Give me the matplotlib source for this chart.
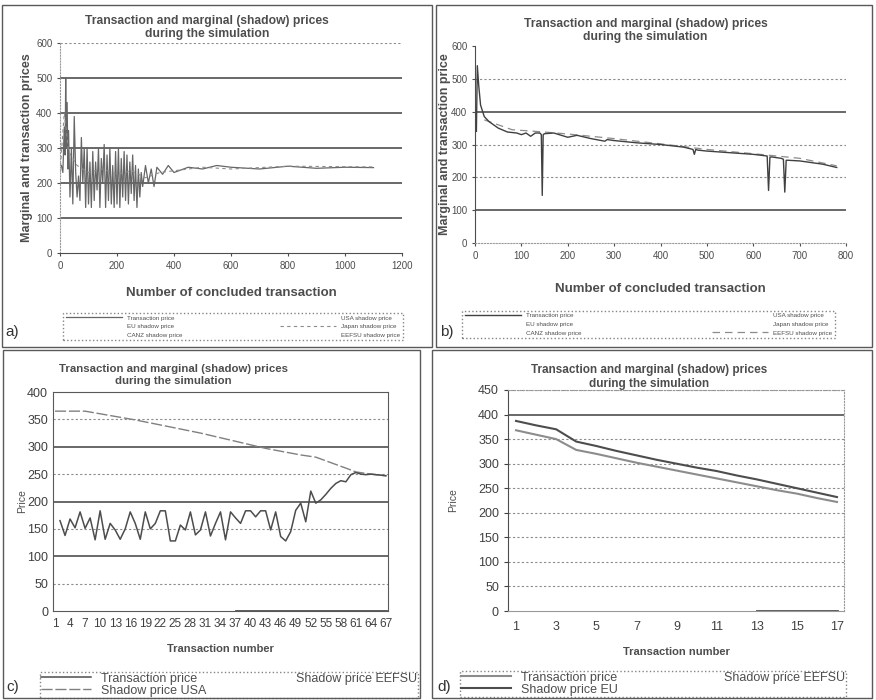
import matplotlib
matplotlib.use("Agg")
import matplotlib.pyplot as plt
from matplotlib.patches import Rectangle

plt.rcParams['font.family'] = ['Liberation Sans', 'DejaVu Sans']

TITLE = "Transaction and marginal (shadow) prices\nduring the simulation"

# ---- panel a: all regions, 1200 transactions
ta_x = [5, 10, 15, 18, 20, 22, 25, 28, 30, 35,
        40, 45, 50, 55, 60, 65, 70, 75, 80, 85,
        90, 95, 100, 105, 110, 115, 120, 125, 130, 135,
        140, 145, 150, 155, 160, 165, 170, 175, 180, 185,
        190, 195, 200, 205, 210, 215, 220, 225, 230, 235,
        240, 245, 250, 255, 260, 265, 270, 275, 280, 285,
        290, 300, 310, 320, 330, 340, 360, 380, 400, 450,
        500, 550, 600, 700, 800, 900, 1000, 1100]
ta_y = [250, 230, 360, 280, 500, 300, 430, 240, 350, 160,
        300, 140, 390, 230, 160, 220, 150, 330, 200, 300,
        130, 300, 140, 260, 130, 290, 150, 260, 180, 300,
        130, 270, 200, 310, 130, 280, 150, 300, 140, 250,
        130, 290, 140, 300, 130, 270, 160, 290, 150, 280,
        140, 260, 170, 280, 150, 250, 130, 240, 160, 230,
        190, 250, 200, 240, 190, 245, 225, 250, 230, 245,
        240, 250, 245, 240, 248, 242, 245, 244]
japan_a_x = [0, 15, 30, 60, 100, 150, 200, 250, 300, 350, 400, 500, 600, 800, 1100]
japan_a_y = [230, 400, 290, 250, 230, 240, 225, 235, 215, 230, 235, 245, 240, 248, 246]

# ---- panel b: 800 transactions
tb_x = [3, 5, 8, 12, 20, 30, 50, 70, 90, 100,
        110, 120, 130, 140, 143, 145, 147, 150, 170, 200,
        220, 250, 280, 285, 300, 350, 400, 450, 470, 473,
        476, 480, 500, 550, 600, 630, 633, 636, 640, 660,
        665, 668, 671, 675, 700, 750, 780]
tb_y = [340, 540, 480, 420, 385, 370, 350, 338, 335, 330,
        335, 325, 335, 335, 330, 145, 330, 333, 335, 322,
        328, 318, 310, 315, 312, 305, 300, 292, 285, 270,
        285, 283, 280, 275, 270, 265, 160, 262, 262, 258,
        255, 155, 252, 252, 250, 240, 230]
sb_x = [20, 40, 80, 150, 200, 300, 400, 500, 600, 700, 780]
sb_y = [375, 365, 345, 338, 332, 318, 302, 285, 272, 258, 235]

# ---- panel c: 67 transactions
tc_x = list(range(2, 68))
tc_y = [165, 138, 168, 152, 181, 151, 170, 130, 183, 131,
        160, 148, 131, 150, 181, 160, 131, 181, 150, 160,
        183, 183, 128, 128, 157, 148, 181, 139, 148, 181,
        137, 160, 181, 130, 181, 170, 160, 183, 183, 172,
        183, 183, 148, 181, 136, 128, 145, 184, 197, 163,
        219, 197, 203, 213, 224, 233, 238, 236, 249, 253,
        250, 249, 250, 249, 248, 247]
usa_c_x = [1, 7, 12, 17, 23, 30, 37, 43, 50, 53, 56, 59, 61, 64, 67]
usa_c_y = [365, 365, 357, 349, 338, 325, 310, 297, 285, 281, 271, 261, 254, 250, 247]
eefsu_c_x = [37, 67]
eefsu_c_y = [0, 0]
c_ticks = list(range(1, 68, 3))

# ---- panel d: 17 transactions
d_x = list(range(1, 18))
td_y = [368, 359, 350, 328, 320, 311, 302, 294, 286, 278, 270, 262, 254, 246, 239, 230, 222]
eu_d_y = [387, 378, 370, 345, 336, 326, 317, 308, 300, 292, 285, 276, 268, 259, 250, 241, 232]
eefsu_d_x = [13, 17]
eefsu_d_y = [0, 0]
d_ticks = list(range(1, 18, 2))

fig = plt.figure(figsize=(8.76, 7.0), dpi=100)

def px(x0, y0, x1, y1):
    # pixel box -> figure fraction rect
    return [x0 / 876, 1 - y1 / 700, (x1 - x0) / 876, (y1 - y0) / 700]

# panel frames
for (x0, y0, x1, y1) in [(2, 5, 432, 347), (436, 5, 872, 347), (3, 350, 420, 698), (432, 350, 872, 698)]:
    fig.add_artist(Rectangle((x0 / 876, 1 - y1 / 700), (x1 - x0) / 876, (y1 - y0) / 700,
                             transform=fig.transFigure, fill=False, ec='0.35', lw=1))

def hgrid(ax, vals, dark, light):
    for v in vals:
        if v in dark:
            ax.axhline(v, color='0.25', lw=1.1, zorder=0)
        elif v in light:
            ax.axhline(v, color='0.55', lw=0.8, ls=(0, (2, 2)), zorder=0)

def style_legend(leg):
    leg.get_frame().set_edgecolor('0.4')
    leg.get_frame().set_linestyle(':')
    for t in leg.get_texts():
        t.set_color('0.3')

# ---------------- a
ax = fig.add_axes(px(60, 43, 402, 253))
ax.plot(ta_x, ta_y, color='0.4', lw=0.9, label='Transaction price')
ax.plot([], [], color='white', label='EU shadow price')
ax.plot([], [], color='white', label='CANZ shadow price')
ax.plot([], [], color='white', label='USA shadow price')
ax.plot(japan_a_x, japan_a_y, color='0.55', lw=0.8, ls=(0, (3, 3)), label='Japan shadow price')
ax.plot([], [], color='white', label='EEFSU shadow price')
hgrid(ax, range(100, 601, 100), dark=[100, 200, 300, 400, 500], light=[600])
ax.set_xlim(0, 1200)
ax.set_ylim(0, 600)
ax.set_xticks(range(0, 1201, 200))
ax.set_yticks(range(0, 601, 100))
for s in ['top', 'right']:
    ax.spines[s].set_visible(False)
ax.spines['left'].set_color('0.6')
ax.spines['left'].set_linestyle(':')
ax.spines['bottom'].set_color('0.3')
ax.tick_params(labelsize=7, colors='0.3', length=2)
ax.set_title(TITLE, fontsize=8.7, fontweight='bold', color='0.3', pad=4, x=0.43)
ax.set_xlabel('Number of concluded transaction', fontsize=9.5, fontweight='bold', color='0.3', labelpad=12)
ax.set_ylabel('Marginal and transaction prices', fontsize=9, fontweight='bold', color='0.3', labelpad=2)
leg = ax.legend(loc='lower left', bbox_to_anchor=px(63, 303, 403, 340), bbox_transform=fig.transFigure,
                mode='expand', ncol=2, fontsize=4.5, frameon=True, fancybox=False,
                handlelength=9, borderaxespad=0, labelspacing=0.5)
style_legend(leg)
fig.text(5 / 876, 1 - 336 / 700, 'a)', fontsize=11, color='0.2')

# ---------------- b
ax = fig.add_axes(px(475, 46, 846, 243))
ax.plot(tb_x, tb_y, color='0.25', lw=1.0, label='Transaction price', zorder=3)
ax.plot([], [], color='white', label='EU shadow price')
ax.plot([], [], color='white', label='CANZ shadow price')
ax.plot([], [], color='white', label='USA shadow price')
ax.plot([], [], color='white', label='Japan shadow price')
ax.plot(sb_x, sb_y, color='0.55', lw=0.9, ls=(0, (6, 4)), label='EEFSU shadow price', zorder=2)
hgrid(ax, range(100, 601, 100), dark=[100, 400], light=[200, 300, 500])
ax.set_xlim(0, 800)
ax.set_ylim(0, 600)
ax.set_xticks(range(0, 801, 100))
ax.set_yticks(range(0, 601, 100))
for s in ['top', 'right']:
    ax.spines[s].set_visible(False)
ax.spines['bottom'].set_color('0.6')
ax.spines['bottom'].set_linestyle(':')
ax.spines['left'].set_color('0.3')
ax.tick_params(labelsize=7, colors='0.3', length=2)
ax.set_title(TITLE, fontsize=8.7, fontweight='bold', color='0.3', pad=4, x=0.46)
ax.set_xlabel('Number of concluded transaction', fontsize=9.5, fontweight='bold', color='0.3', labelpad=16)
ax.set_ylabel('Marginal and transaction price', fontsize=9, fontweight='bold', color='0.3', labelpad=0)
leg = ax.legend(loc='lower left', bbox_to_anchor=px(462, 300, 835, 338), bbox_transform=fig.transFigure,
                mode='expand', ncol=2, fontsize=4.5, frameon=True, fancybox=False,
                handlelength=9, borderaxespad=0, labelspacing=0.5)
style_legend(leg)
fig.text(440 / 876, 1 - 336 / 700, 'b)', fontsize=11, color='0.2')

# ---------------- c
ax = fig.add_axes(px(53, 392, 388, 611))
ax.plot(tc_x, tc_y, color='0.3', lw=1.1, label='Transaction price', zorder=3)
ax.plot(usa_c_x, usa_c_y, color='0.5', lw=1.0, ls=(0, (8, 2)), label='Shadow price USA', zorder=2)
ax.plot(eefsu_c_x, eefsu_c_y, color='0.3', lw=2.0, label='Shadow price EEFSU', zorder=2)
hgrid(ax, range(50, 401, 50), dark=[100, 200, 300], light=[50, 150, 250, 350])
ax.set_xlim(0.6, 67.4)
ax.set_ylim(0, 400)
ax.set_xticks(c_ticks)
ax.set_yticks(range(0, 401, 50))
for s in ax.spines.values():
    s.set_color('0.35')
ax.tick_params(axis='x', labelsize=8.5, colors='0.25', length=0, pad=5)
ax.tick_params(axis='y', labelsize=9, colors='0.25', length=0)
ax.set_title(TITLE, fontsize=8.2, fontweight='bold', color='0.3', pad=6, x=0.36)
ax.set_xlabel('Transaction number', fontsize=8, fontweight='bold', color='0.3', labelpad=10)
ax.set_ylabel('Price', fontsize=7.5, color='0.3', labelpad=0)
leg = ax.legend(loc='lower left', bbox_to_anchor=px(40, 667, 418, 698), bbox_transform=fig.transFigure,
                mode='expand', ncol=2, fontsize=9, frameon=True, fancybox=False,
                handlelength=4, borderaxespad=0, labelspacing=0.0, borderpad=0.1)
leg.get_lines()[2].set_visible(False)
style_legend(leg)
fig.text(6 / 876, 1 - 691 / 700, 'c)', fontsize=11, color='0.2')

# ---------------- d
ax = fig.add_axes(px(508, 390, 844, 611))
ax.plot(d_x, td_y, color='0.55', lw=1.5, label='Transaction price', zorder=3)
ax.plot(d_x, eu_d_y, color='0.3', lw=1.5, label='Shadow price EU', zorder=3)
ax.plot(eefsu_d_x, eefsu_d_y, color='0.3', lw=2.0, label='Shadow price EEFSU', zorder=2)
hgrid(ax, range(50, 451, 50), dark=[400], light=[50, 100, 150, 200, 250, 300, 350, 450])
ax.set_xlim(0.6, 17.35)
ax.set_ylim(0, 450)
ax.set_xticks(d_ticks)
ax.set_yticks(range(0, 451, 50))
for s in ['top', 'right']:
    ax.spines[s].set_color('0.6')
    ax.spines[s].set_linestyle(':')
ax.spines['left'].set_color('0.3')
ax.spines['bottom'].set_color('0.6')
ax.tick_params(axis='x', labelsize=9, colors='0.25', length=0, pad=7)
ax.tick_params(axis='y', labelsize=9, colors='0.25', length=3, direction='out')
ax.set_title(TITLE, fontsize=8.5, fontweight='bold', color='0.3', pad=2, x=0.42)
ax.set_xlabel('Transaction number', fontsize=8, fontweight='bold', color='0.3', labelpad=10)
ax.set_ylabel('Price', fontsize=7.5, color='0.3', labelpad=14)
leg = ax.legend(loc='lower left', bbox_to_anchor=px(460, 667, 846, 697), bbox_transform=fig.transFigure,
                mode='expand', ncol=2, fontsize=9, frameon=True, fancybox=False,
                handlelength=4, borderaxespad=0, labelspacing=0.0, borderpad=0.1)
leg.get_lines()[2].set_visible(False)
style_legend(leg)
fig.text(437 / 876, 1 - 691 / 700, 'd)', fontsize=11, color='0.2')

fig.savefig('out.png', dpi=100, facecolor='white')
